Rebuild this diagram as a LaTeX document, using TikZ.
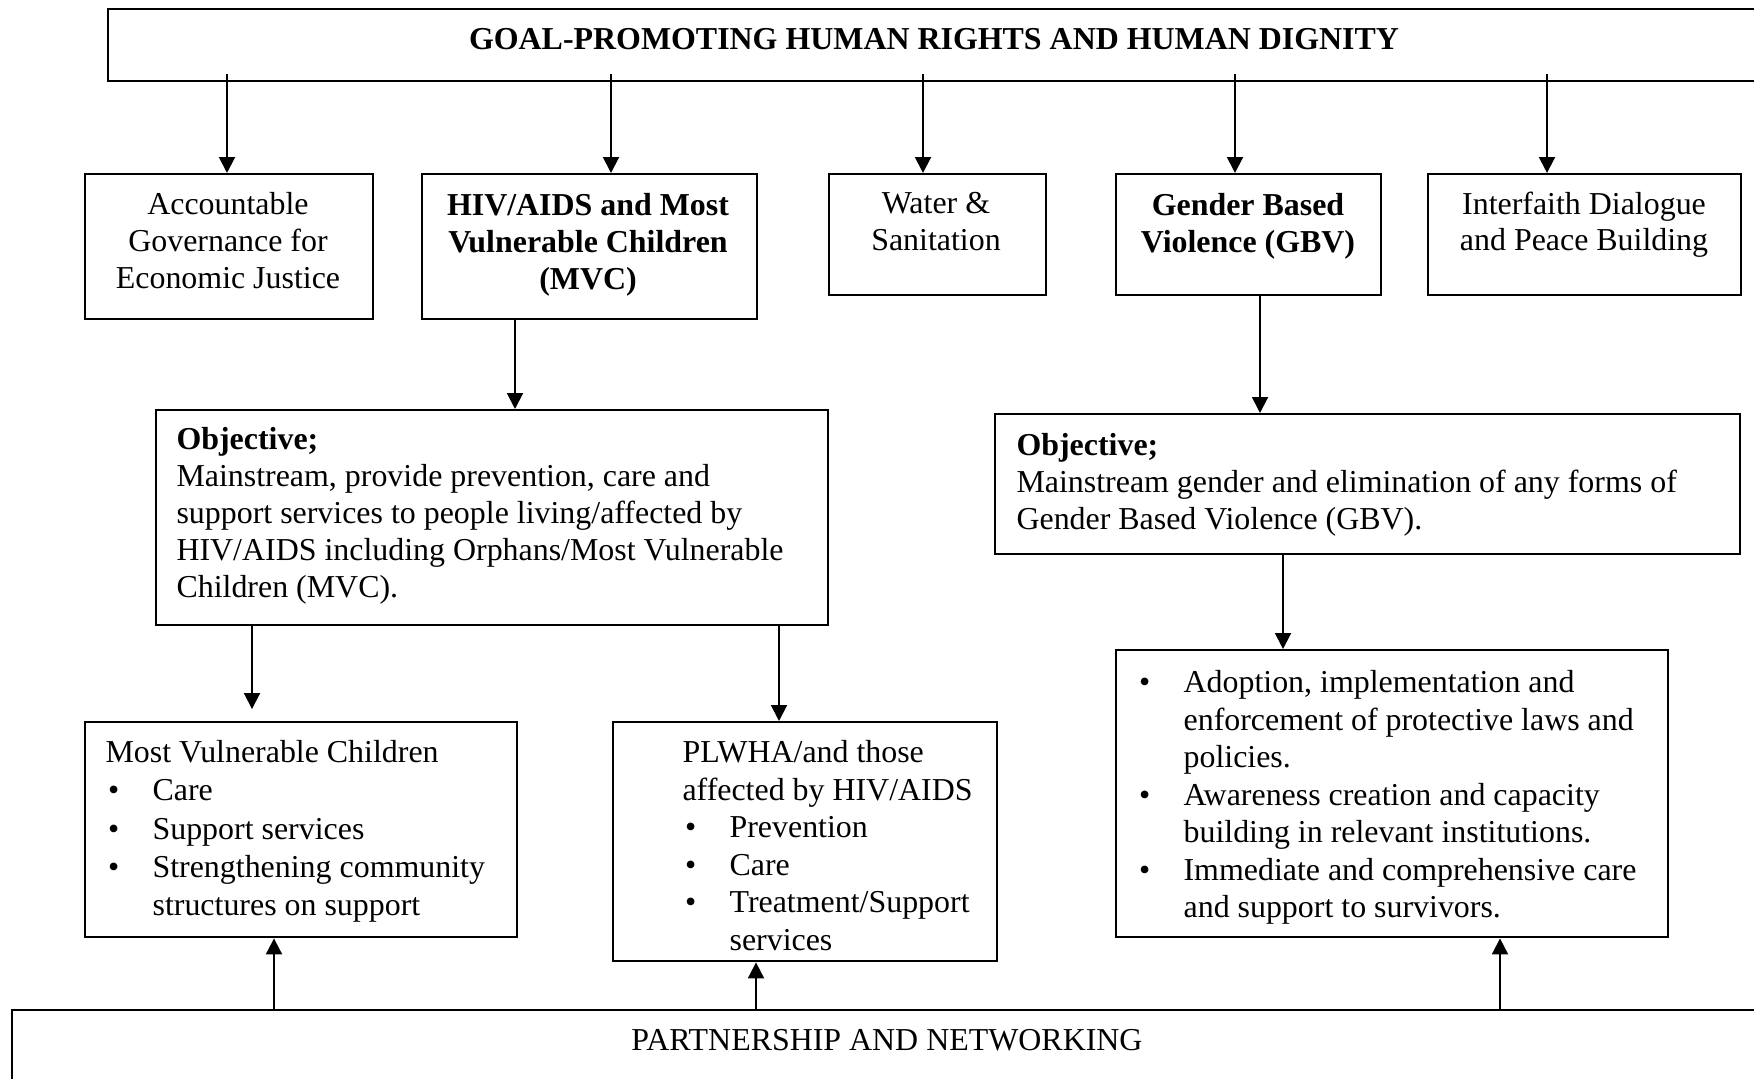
\documentclass[tikz,border=0pt]{standalone}
\usepackage{fontspec}
\setmainfont{Liberation Serif}
\usepackage{tikz}
\usetikzlibrary{arrows.meta}

\newcommand{\bulit}{\makebox[17.7pt][l]{\hspace*{1pt}\textbullet}}
\newcommand{\bulcont}{\hspace*{17.7pt}}

\begin{document}
\begin{tikzpicture}[
  x=0.376pt, y=-0.376pt,
  box/.style 2 args={draw, line width=0.9pt, anchor=north west, inner sep=0pt, minimum width=#1*0.376pt, minimum height=#2*0.376pt},
  txt/.style={inner sep=0pt, align=center, font=\fontsize{12}{13.9}\selectfont},
  itemtxt/.style={inner sep=0pt, align=left, anchor=north west, font=\fontsize{12}{#1}\selectfont},
  arrow/.style={-{Triangle[length=6pt, width=6pt]}, line width=0.75pt}
]
  \useasboundingbox (0,0) rectangle (1754,1078);
  \clip (0,0) rectangle (1754,1078);

  % goal
  \node[box={1655}{72}] (goal) at (107,8) {};
  \node[txt, font=\fontsize{12}{13.9}\selectfont\bfseries] (goal-t) at (934,39) {GOAL-PROMOTING HUMAN RIGHTS AND HUMAN DIGNITY};

  % programme areas
  \node[box={288}{145}] (acc) at (84,173) {};
  \node[txt, anchor=north] (acc-t) at (228,192) {Accountable\\Governance for\\Economic Justice};
  \node[box={335}{145}] (hiv) at (421,173) {};
  \node[txt, anchor=north, font=\fontsize{12}{13.9}\selectfont\bfseries] (hiv-t) at (588,193) {HIV/AIDS and Most\\Vulnerable Children\\(MVC)};
  \node[box={217}{121}] (water) at (828,173) {};
  \node[txt, anchor=north] (water-t) at (936,192) {Water \&\\Sanitation};
  \node[box={265}{121}] (gbv) at (1115,173) {};
  \node[txt, anchor=north, font=\fontsize{12}{13.9}\selectfont\bfseries] (gbv-t) at (1248,193) {Gender Based\\Violence (GBV)};
  \node[box={313}{121}] (inter) at (1427,173) {};
  \node[txt, anchor=north] (inter-t) at (1584,191) {Interfaith Dialogue\\and Peace Building};

  % objectives
  \node[box={672}{215}] (obj1) at (155,409) {};
  \node[itemtxt=13.9pt] (obj1-t) at (176,427) {\textbf{Objective;}\\Mainstream, provide prevention, care and\\support services to people living/affected by\\HIV/AIDS including Orphans/Most Vulnerable\\Children (MVC).};
  \node[box={745}{140}] (obj2) at (994,413) {};
  \node[itemtxt=13.9pt] (obj2-t) at (1016,433) {\textbf{Objective;}\\Mainstream gender and elimination of any forms of\\Gender Based Violence (GBV).};

  % activities
  \node[box={432}{215}] (mvc) at (84,721) {};
  \node[itemtxt=14.4pt] (mvc-t) at (105,740) {Most Vulnerable Children\\\bulit Care\\\bulit Support services\\\bulit Strengthening community\\\bulcont structures on support};
  \node[box={384}{239}] (plw) at (612,721) {};
  \node[itemtxt=14.1pt] (plw-t) at (682,740) {PLWHA/and those\\affected by HIV/AIDS\\\bulit Prevention\\\bulit Care\\\bulit Treatment/Support\\\bulcont services};
  \node[box={552}{287}] (gbvb) at (1115,649) {};
  \node[itemtxt=14.1pt] (gbvb-t) at (1136,670) {\bulit Adoption, implementation and\\\bulcont enforcement of protective laws and\\\bulcont policies.\\\bulit Awareness creation and capacity\\\bulcont building in relevant institutions.\\\bulit Immediate and comprehensive care\\\bulcont and support to survivors.};

  % partnership
  \node[box={1752}{120}] (part) at (11,1009) {};
  \node[txt] (part-t) at (887,1040) {PARTNERSHIP AND NETWORKING};

  % connectors
  \foreach \ax/\tgt in {227/acc, 611/hiv, 923/water, 1235/gbv, 1547/inter}
    \draw[arrow] ([yshift=3pt]goal.south -| \ax,0) -- (\tgt.north -| \ax,0);
  \draw[arrow] (hiv.south -| 515,0) -- (obj1.north -| 515,0);
  \draw[arrow] (gbv.south -| 1260,0) -- (obj2.north -| 1260,0);
  \draw[arrow, shorten >=4.5pt] (obj1.south -| 252,0) -- (mvc.north -| 252,0);
  \draw[arrow] (obj1.south -| 779,0) -- (plw.north -| 779,0);
  \draw[arrow] (obj2.south -| 1283,0) -- (gbvb.north -| 1283,0);
  \foreach \ax/\tgt in {274/mvc, 756/plw, 1500/gbvb}
    \draw[arrow] (part.north -| \ax,0) -- (\tgt.south -| \ax,0);
\end{tikzpicture}
\end{document}
